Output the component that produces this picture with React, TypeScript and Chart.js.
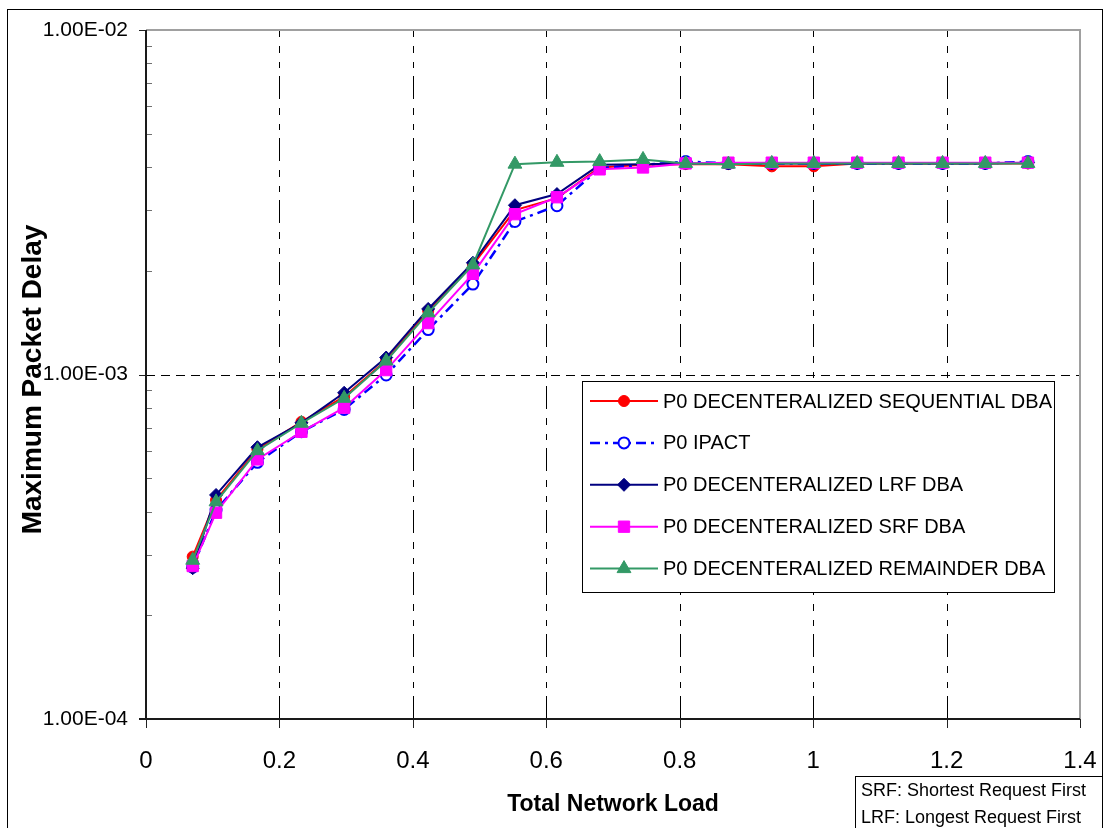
import React, { useEffect, useRef } from 'react';
import { Chart, registerables } from 'chart.js';

Chart.register(...registerables);

// Offered load (x) for every simulation run
const loads = [0.07, 0.105, 0.167, 0.233, 0.297, 0.36, 0.423, 0.49, 0.553, 0.616, 0.68, 0.745, 0.809, 0.873, 0.938, 1.001, 1.066, 1.128, 1.194, 1.258, 1.322];

// Maximum packet delay (s) per scheme
const seqDelay = [2.96e-4, 4.32e-4, 6.07e-4, 7.29e-4, 8.62e-4, 1.10e-3, 1.53e-3, 2.08e-3, 3.00e-3, 3.25e-3, 3.99e-3, 4.06e-3, 4.08e-3, 4.08e-3, 4.02e-3, 4.02e-3, 4.10e-3, 4.10e-3, 4.10e-3, 4.10e-3, 4.10e-3];
const ipactDelay = [2.76e-4, 4.04e-4, 5.56e-4, 6.82e-4, 7.92e-4, 9.97e-4, 1.35e-3, 1.83e-3, 2.78e-3, 3.09e-3, 3.97e-3, 4.06e-3, 4.15e-3, 4.10e-3, 4.10e-3, 4.10e-3, 4.10e-3, 4.10e-3, 4.10e-3, 4.10e-3, 4.15e-3];
const lrfDelay = [2.74e-4, 4.47e-4, 6.15e-4, 7.24e-4, 8.85e-4, 1.12e-3, 1.55e-3, 2.11e-3, 3.10e-3, 3.34e-3, 4.06e-3, 4.08e-3, 4.10e-3, 4.10e-3, 4.10e-3, 4.10e-3, 4.10e-3, 4.10e-3, 4.10e-3, 4.10e-3, 4.12e-3];
const srfDelay = [2.78e-4, 3.97e-4, 5.67e-4, 6.82e-4, 8.01e-4, 1.03e-3, 1.41e-3, 1.96e-3, 2.92e-3, 3.27e-3, 3.94e-3, 3.99e-3, 4.10e-3, 4.12e-3, 4.12e-3, 4.12e-3, 4.12e-3, 4.12e-3, 4.12e-3, 4.12e-3, 4.12e-3];
const remainderDelay = [2.89e-4, 4.27e-4, 6.01e-4, 7.22e-4, 8.53e-4, 1.094e-3, 1.51e-3, 2.08e-3, 4.08e-3, 4.13e-3, 4.15e-3, 4.21e-3, 4.10e-3, 4.08e-3, 4.10e-3, 4.10e-3, 4.10e-3, 4.10e-3, 4.10e-3, 4.10e-3, 4.10e-3];

const seriesNames = [
  'P0 DECENTERALIZED SEQUENTIAL DBA',
  'P0 IPACT',
  'P0 DECENTERALIZED LRF DBA',
  'P0 DECENTERALIZED SRF DBA',
  'P0 DECENTERALIZED REMAINDER DBA',
];
const seriesValues = [seqDelay, ipactDelay, lrfDelay, srfDelay, remainderDelay];

const xTickValues = [0, 0.2, 0.4, 0.6, 0.8, 1, 1.2, 1.4];
const xTickLabels = ['0', '0.2', '0.4', '0.6', '0.8', '1', '1.2', '1.4'];
const yTickValues = [1e-4, 1e-3, 1e-2];
const yTickLabels = ['1.00E-04', '1.00E-03', '1.00E-02'];

const xTitle = 'Total Network Load';
const yTitle = 'Maximum Packet Delay';
const noteLines = ['SRF: Shortest Request First', 'LRF: Longest Request First'];

const FONT = '"Liberation Sans", Arial, Helvetica, sans-serif';

type Shape = 'circle' | 'rectRot' | 'rect' | 'triangle';
interface SeriesStyle {
  color: string;
  fill: string;
  shape: Shape;
  radius: number;
  lineWidth: number;
  pointBorder: number;
  dash: number[];
}

const seriesStyles: SeriesStyle[] = [
  { color: '#FF0000', fill: '#FF0000', shape: 'circle', radius: 5.5, lineWidth: 2, pointBorder: 1, dash: [] },
  { color: '#0000FF', fill: '#FFFFFF', shape: 'circle', radius: 5.5, lineWidth: 2.5, pointBorder: 2, dash: [10, 5, 3, 5] },
  { color: '#000080', fill: '#000080', shape: 'rectRot', radius: 6.5, lineWidth: 2, pointBorder: 1, dash: [] },
  { color: '#FF00FF', fill: '#FF00FF', shape: 'rect', radius: 8, lineWidth: 2, pointBorder: 1, dash: [] },
  { color: '#339966', fill: '#339966', shape: 'triangle', radius: 8, lineWidth: 2, pointBorder: 1, dash: [] },
];

function drawMarker(ctx: CanvasRenderingContext2D, s: SeriesStyle, x: number, y: number) {
  const r = s.radius;
  ctx.beginPath();
  if (s.shape === 'circle') {
    ctx.arc(x, y, r, 0, Math.PI * 2);
  } else if (s.shape === 'rect') {
    const h = r * Math.SQRT1_2;
    ctx.rect(x - h, y - h, 2 * h, 2 * h);
  } else if (s.shape === 'rectRot') {
    ctx.moveTo(x - r, y);
    ctx.lineTo(x, y - r);
    ctx.lineTo(x + r, y);
    ctx.lineTo(x, y + r);
    ctx.closePath();
  } else {
    let a = 0;
    ctx.moveTo(x + Math.sin(a) * r, y - Math.cos(a) * r);
    a += (2 * Math.PI) / 3;
    ctx.lineTo(x + Math.sin(a) * r, y - Math.cos(a) * r);
    a += (2 * Math.PI) / 3;
    ctx.lineTo(x + Math.sin(a) * r, y - Math.cos(a) * r);
    ctx.closePath();
  }
  ctx.fillStyle = s.fill;
  ctx.fill();
  ctx.lineWidth = s.pointBorder;
  ctx.strokeStyle = s.color;
  ctx.setLineDash([]);
  ctx.stroke();
}

function seg(ctx: CanvasRenderingContext2D, x1: number, y1: number, x2: number, y2: number) {
  ctx.beginPath();
  ctx.moveTo(x1, y1);
  ctx.lineTo(x2, y2);
  ctx.stroke();
}

const decorPlugin = {
  id: 'decor',
  beforeDraw(chart: any) {
    const ctx: CanvasRenderingContext2D = chart.ctx;
    ctx.save();
    ctx.fillStyle = '#FFFFFF';
    ctx.fillRect(0, 0, chart.width, chart.height);
    ctx.strokeStyle = '#000000';
    ctx.lineWidth = 1;
    ctx.strokeRect(7.5, 9.5, 1095, 900);
    ctx.restore();
  },
  beforeDatasetsDraw(chart: any) {
    const ctx: CanvasRenderingContext2D = chart.ctx;
    const a = chart.chartArea;
    const xs = chart.scales.x;
    const ys = chart.scales.y;
    ctx.save();

    // vertical dash-dot grid lines
    ctx.strokeStyle = '#000000';
    ctx.lineWidth = 1;
    ctx.setLineDash([23, 8, 6, 9, 7, 9]);
    for (const v of xTickValues) {
      if (v <= xs.min || v >= xs.max) continue;
      const px = Math.round(xs.getPixelForValue(v)) + 0.5;
      seg(ctx, px, a.bottom, px, a.top);
    }
    // horizontal dashed grid lines
    ctx.setLineDash([9, 6]);
    for (const v of yTickValues) {
      if (v <= ys.min || v >= ys.max) continue;
      const py = Math.round(ys.getPixelForValue(v)) + 0.5;
      seg(ctx, a.left, py, a.right, py);
    }
    ctx.setLineDash([]);

    // grey plot border on top and right
    ctx.strokeStyle = '#A0A0A0';
    ctx.lineWidth = 2;
    ctx.beginPath();
    ctx.moveTo(a.left, a.top);
    ctx.lineTo(a.right, a.top);
    ctx.lineTo(a.right, a.bottom);
    ctx.stroke();

    // x tick marks
    ctx.strokeStyle = '#222222';
    ctx.lineWidth = 1;
    for (const v of xTickValues) {
      const px = Math.round(xs.getPixelForValue(v)) + 0.5;
      seg(ctx, px, a.bottom, px, a.bottom + 9);
    }
    // y major tick marks
    for (const v of yTickValues) {
      const py = Math.round(ys.getPixelForValue(v)) + 0.5;
      seg(ctx, a.left - 7, py, a.left, py);
    }
    // y minor tick marks inside the plot
    ctx.strokeStyle = '#707070';
    const lo = Math.round(Math.log10(ys.min));
    const hi = Math.round(Math.log10(ys.max));
    for (let k = lo; k < hi; k++) {
      for (let m = 2; m <= 9; m++) {
        const py = Math.round(ys.getPixelForValue(m * Math.pow(10, k))) + 0.5;
        seg(ctx, a.left, py, a.left + 6, py);
      }
    }

    // axis lines
    ctx.strokeStyle = '#1A1A1A';
    ctx.lineWidth = 2;
    seg(ctx, a.left, a.top, a.left, a.bottom);
    seg(ctx, a.left - 7, a.bottom, a.right, a.bottom);
    ctx.restore();
  },
  afterDatasetsDraw(chart: any) {
    const ctx: CanvasRenderingContext2D = chart.ctx;
    ctx.save();
    // legend box
    const bx = 582.5, by = 381.5, bw = 472, bh = 211;
    ctx.fillStyle = '#FFFFFF';
    ctx.fillRect(bx, by, bw, bh);
    ctx.strokeStyle = '#000000';
    ctx.lineWidth = 1;
    ctx.strokeRect(bx, by, bw, bh);
    ctx.font = `20px ${FONT}`;
    ctx.textBaseline = 'middle';
    ctx.textAlign = 'left';
    seriesNames.forEach((name, i) => {
      const s = seriesStyles[i];
      const y = 401 + i * 41.9;
      ctx.strokeStyle = s.color;
      ctx.lineWidth = s.lineWidth;
      ctx.setLineDash(s.dash);
      seg(ctx, 590, y, 658, y);
      drawMarker(ctx, s, 624, y);
      ctx.fillStyle = '#000000';
      ctx.fillText(name, 663, y + 1);
    });
    ctx.restore();
  },
  afterDraw(chart: any) {
    const ctx: CanvasRenderingContext2D = chart.ctx;
    const a = chart.chartArea;
    ctx.save();
    ctx.fillStyle = '#000000';
    // axis titles
    ctx.font = `bold 23px ${FONT}`;
    ctx.textAlign = 'center';
    ctx.textBaseline = 'middle';
    ctx.fillText(xTitle, (a.left + a.right) / 2, 805);
    ctx.save();
    ctx.translate(33, (a.top + a.bottom) / 2 + 5);
    ctx.rotate(-Math.PI / 2);
    ctx.font = `bold 28px ${FONT}`;
    ctx.fillText(yTitle, 0, 0);
    ctx.restore();

    // abbreviation note
    ctx.strokeStyle = '#000000';
    ctx.lineWidth = 1;
    ctx.strokeRect(855.5, 776.5, 247, 80);
    ctx.font = `18px ${FONT}`;
    ctx.textAlign = 'left';
    noteLines.forEach((t, i) => ctx.fillText(t, 861, 791 + i * 27));
    ctx.restore();
  },
};

export default function App() {
  const canvasRef = useRef<HTMLCanvasElement | null>(null);

  useEffect(() => {
    const canvas = canvasRef.current;
    if (!canvas) return;
    // highest order is drawn first, so later series sit on top
    const datasets = seriesNames.map((name, i) => {
      const s = seriesStyles[i];
      return {
        label: name,
        data: loads.map((x, j) => ({ x, y: seriesValues[i][j] })),
        borderColor: s.color,
        backgroundColor: s.fill,
        borderWidth: s.lineWidth,
        borderDash: s.dash,
        pointStyle: s.shape,
        pointRadius: s.radius,
        pointBackgroundColor: s.fill,
        pointBorderColor: s.color,
        pointBorderWidth: s.pointBorder,
        tension: 0,
        fill: false,
        order: seriesNames.length - 1 - i,
      };
    });

    const chart = new Chart(canvas, {
      type: 'line',
      data: { datasets },
      plugins: [decorPlugin],
      options: {
        animation: false,
        responsive: false,
        devicePixelRatio: 1,
        layout: { padding: { top: 30, right: 24, bottom: 0, left: 0 } },
        plugins: { legend: { display: false }, tooltip: { enabled: false } },
        scales: {
          x: {
            type: 'linear',
            min: 0,
            max: 1.4,
            afterBuildTicks: (s: any) => {
              s.ticks = xTickValues.map((v) => ({ value: v }));
            },
            afterFit: (s: any) => {
              s.height = 109;
              s.paddingLeft = 0;
              s.paddingRight = 0;
            },
            grid: { display: false, drawTicks: false },
            border: { display: false },
            ticks: {
              autoSkip: false,
              maxRotation: 0,
              padding: 28,
              color: '#000000',
              font: { family: FONT, size: 24 },
              callback: (v: any) => {
                const i = xTickValues.findIndex((t) => Math.abs(t - Number(v)) < 1e-9);
                return i >= 0 ? xTickLabels[i] : '';
              },
            },
          },
          y: {
            type: 'logarithmic',
            min: 1e-4,
            max: 1e-2,
            afterBuildTicks: (s: any) => {
              s.ticks = yTickValues.map((v) => ({ value: v }));
            },
            afterFit: (s: any) => {
              s.width = 146;
              s.paddingTop = 0;
              s.paddingBottom = 0;
            },
            grid: { display: false, drawTicks: false },
            border: { display: false },
            ticks: {
              autoSkip: false,
              padding: 18,
              color: '#000000',
              font: { family: FONT, size: 21 },
              callback: (v: any) => {
                const i = yTickValues.findIndex((t) => Math.abs(t - Number(v)) / t < 1e-6);
                return i >= 0 ? yTickLabels[i] : '';
              },
            },
          },
        },
      } as any,
    });
    return () => chart.destroy();
  }, []);

  return (
    <div style={{ position: 'fixed', left: 0, top: 0, width: 1104, height: 828, background: '#FFFFFF' }}>
      <canvas ref={canvasRef} width={1104} height={828} style={{ display: 'block', width: 1104, height: 828 }} />
    </div>
  );
}
